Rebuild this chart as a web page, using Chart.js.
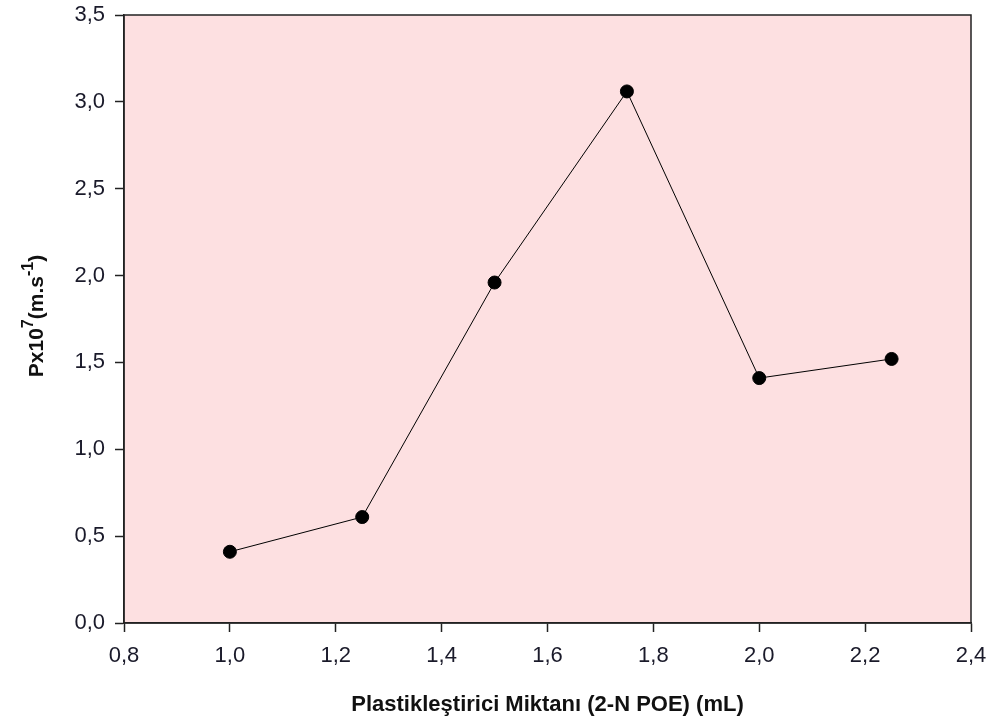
<!DOCTYPE html>
<html>
<head>
<meta charset="utf-8">
<script src="https://cdn.jsdelivr.net/npm/chart.js@4"></script>
<style>
  html, body { margin: 0; padding: 0; background: #fff; }
  #wrap { width: 995px; height: 722px; }
</style>
</head>
<body>
<div id="wrap"><canvas id="data-chart" width="995" height="722"></canvas></div>
<script>
// values
const amounts = [1.0, 1.25, 1.5, 1.75, 2.0, 2.25];
const permeability = [0.41, 0.61, 1.96, 3.06, 1.41, 1.52];

const xTitle = 'Plastikleştirici Miktan\u0131 (2-N POE) (mL)';

function comma(v) {
    return v.toFixed(1).replace('.', ',');
}

// plot background + frame on all four sides
const framePlugin = {
    id: 'frame',
    beforeDraw(chart) {
        const a = chart.chartArea, c = chart.ctx;
        c.save();
        c.fillStyle = '#fde0e1';
        c.fillRect(a.left, a.top, a.right - a.left, a.bottom - a.top);
        c.restore();
    },
    afterDraw(chart) {
        const a = chart.chartArea, c = chart.ctx;
        c.save();
        c.strokeStyle = '#222';
        c.lineWidth = 1.5;
        c.strokeRect(a.left, a.top, a.right - a.left, a.bottom - a.top);
        c.restore();
    }
};

// y title with superscripts
const yTitlePlugin = {
    id: 'yTitle',
    afterDraw(chart) {
        const c = chart.ctx;
        const parts = [
            ['Px10', 0, 21], ['7', -10, 16], ['(m.s', 0, 21], ['-1', -10, 16], [')', 0, 21]
        ];
        c.save();
        c.fillStyle = '#111';
        c.textBaseline = 'alphabetic';
        let total = 0;
        parts.forEach(p => { c.font = 'bold ' + p[2] + 'px "Liberation Sans", Arial'; total += c.measureText(p[0]).width; });
        c.translate(43, 316);
        c.rotate(-Math.PI / 2);
        let x = -total / 2;
        parts.forEach(p => {
            c.font = 'bold ' + p[2] + 'px "Liberation Sans", Arial';
            c.fillText(p[0], x, p[1]);
            x += c.measureText(p[0]).width;
        });
        c.restore();
    }
};

const ctx = document.getElementById('data-chart').getContext('2d');
new Chart(ctx, {
    type: 'scatter',
    data: {
        datasets: [{
            label: 'P',
            data: amounts.map((a, i) => ({ x: a, y: permeability[i] })),
            showLine: true,
            borderColor: '#000',
            borderWidth: 1,
            backgroundColor: '#000',
            pointRadius: 6.5,
            pointHoverRadius: 6.5
        }]
    },
    options: {
        responsive: false,
        animation: false,
        layout: { padding: { top: 15, right: 24, left: 0, bottom: 0 } },
        plugins: { legend: { display: false }, tooltip: { enabled: false } },
        scales: {
            x: {
                type: 'linear',
                min: 0.8, max: 2.4,
                afterFit(s) { s.height = 99; s.paddingLeft = 0; s.paddingRight = 0; },
                border: { display: true, color: '#222', width: 1.5 },
                grid: { drawOnChartArea: false, tickLength: 9, tickColor: '#222', tickWidth: 1.5 },
                ticks: {
                    stepSize: 0.2,
                    padding: 11,
                    color: '#1a1a2a',
                    font: { family: '"Liberation Sans", Arial', size: 22 },
                    callback: v => comma(v)
                },
                title: {
                    display: true,
                    text: xTitle,
                    color: '#111',
                    padding: { top: 14 },
                    font: { family: '"Liberation Sans", Arial', size: 22, weight: 'bold' }
                }
            },
            y: {
                min: 0, max: 3.5,
                afterFit(s) { s.width = 124; s.paddingTop = 0; s.paddingBottom = 0; },
                border: { display: true, color: '#222', width: 1.5 },
                grid: { drawOnChartArea: false, tickLength: 9, tickColor: '#222', tickWidth: 1.5 },
                ticks: {
                    stepSize: 0.5,
                    padding: 10,
                    color: '#1a1a2a',
                    font: { family: '"Liberation Sans", Arial', size: 22 },
                    callback: v => comma(v)
                }
            }
        }
    },
    plugins: [framePlugin, yTitlePlugin]
});
</script>
</body>
</html>
